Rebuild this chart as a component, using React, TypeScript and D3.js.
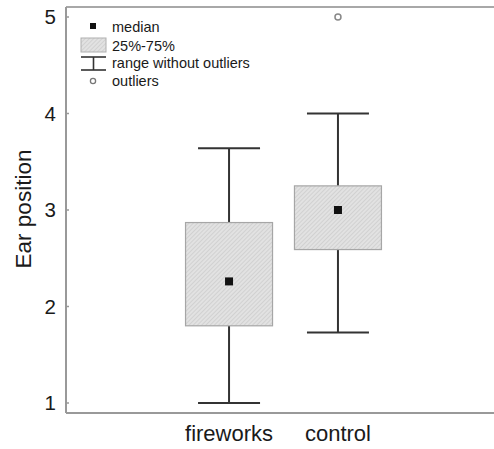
import React from "react";
import * as d3 from "d3";

const categories = ["fireworks", "control"];
const whiskerLow = [1.0, 1.73];
const q1 = [1.8, 2.59];
const median = [2.26, 3.0];
const q3 = [2.87, 3.25];
const whiskerHigh = [3.64, 4.0];
const outliers = [[], [5.0]];
const yTicks = [1, 2, 3, 4, 5];
const legendLabels = ["median", "25%-75%", "range without outliers", "outliers"];

const W = 494;
const H = 449;
const left = 66;
const right = 494;
const top = 7;
const bottom = 413;

export default function App() {
  const y = d3.scaleLinear().domain([1, 5]).range([403, 17]);
  const x = d3.scalePoint<string>().domain(categories).range([70, 497]).padding(1.46);
  const boxW = 87;
  const capW = 62;
  const font = "Liberation Sans, Arial, sans-serif";
  return (
    <svg width={W} height={H} style={{ position: "absolute", left: 0, top: 0, display: "block", overflow: "hidden" }} fontFamily={font}>
      <defs>
        <pattern id="hatch" patternUnits="userSpaceOnUse" width="3" height="3" patternTransform="rotate(45)">
          <rect width="3" height="3" fill="#e2e2e2" />
          <line x1="0" y1="0" x2="0" y2="3" stroke="#c0c0c0" strokeWidth="1" />
        </pattern>
      </defs>
      <rect x={0} y={0} width={W} height={H} fill="#fff" />
      <line x1={left} x2={right} y1={top} y2={top} stroke="#a8a8a8" strokeWidth={2} />
      <line x1={left} x2={right} y1={bottom} y2={bottom} stroke="#999" strokeWidth={2} />
      <line x1={left} x2={left} y1={top} y2={bottom} stroke="#999" strokeWidth={2} />
      {yTicks.map((t) => (
        <g key={t}>
          <line x1={left} x2={left + 3} y1={y(t)} y2={y(t)} stroke="#999" strokeWidth={1.5} />
          <text x={56} y={y(t) + 7} textAnchor="end" fontSize={20.5} fill="#1a1a1a">
            {t}
          </text>
        </g>
      ))}
      <text transform={`translate(31,209) rotate(-90)`} textAnchor="middle" fontSize={22.5} fill="#1a1a1a">
        Ear position
      </text>
      {categories.map((c, i) => {
        const cx = x(c)!;
        return (
          <g key={c}>
            <line x1={cx} x2={cx} y1={y(whiskerHigh[i])} y2={y(q3[i])} stroke="#333" strokeWidth={2} />
            <line x1={cx} x2={cx} y1={y(q1[i])} y2={y(whiskerLow[i])} stroke="#333" strokeWidth={2} />
            <line x1={cx - capW / 2} x2={cx + capW / 2} y1={y(whiskerHigh[i])} y2={y(whiskerHigh[i])} stroke="#333" strokeWidth={2} />
            <line x1={cx - capW / 2} x2={cx + capW / 2} y1={y(whiskerLow[i])} y2={y(whiskerLow[i])} stroke="#333" strokeWidth={2} />
            <rect x={cx - boxW / 2} y={y(q3[i])} width={boxW} height={y(q1[i]) - y(q3[i])} fill="url(#hatch)" stroke="#a6a6a6" strokeWidth={1.2} />
            <rect x={cx - 4} y={y(median[i]) - 4} width={8} height={8} fill="#111" />
            {outliers[i].map((o, j) => (
              <circle key={j} cx={cx} cy={y(o)} r={3} fill="#fff" stroke="#888" strokeWidth={1.5} />
            ))}
            <text x={cx} y={441} textAnchor="middle" fontSize={22} fill="#1a1a1a">
              {c}
            </text>
          </g>
        );
      })}
      <g fontSize={14.5} fill="#1a1a1a">
        <rect x={90} y={23} width={6} height={6} fill="#111" />
        <text x={112} y={32}>{legendLabels[0]}</text>
        <rect x={81} y={38} width={25} height={14} fill="url(#hatch)" stroke="#b0b0b0" strokeWidth={1} />
        <text x={112} y={51}>{legendLabels[1]}</text>
        <line x1={81} x2={106} y1={57} y2={57} stroke="#333" strokeWidth={1.6} />
        <line x1={93.5} x2={93.5} y1={57} y2={70} stroke="#333" strokeWidth={1.6} />
        <line x1={81} x2={106} y1={70} y2={70} stroke="#333" strokeWidth={1.6} />
        <text x={112} y={68}>{legendLabels[2]}</text>
        <circle cx={93} cy={81} r={2.6} fill="#fff" stroke="#777" strokeWidth={1.3} />
        <text x={112} y={86}>{legendLabels[3]}</text>
      </g>
    </svg>
  );
}
